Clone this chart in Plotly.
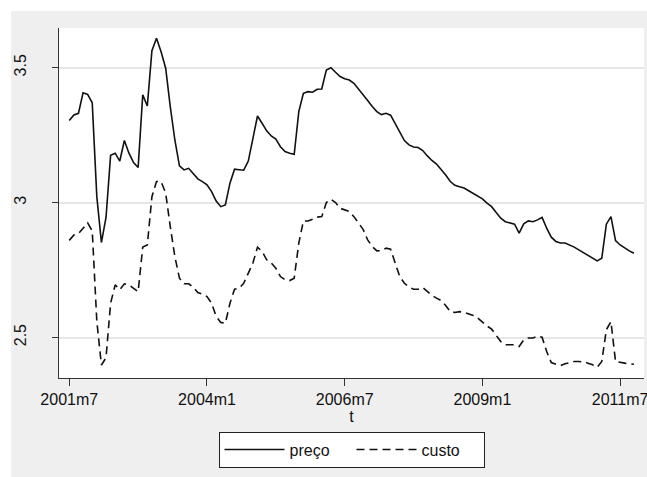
import plotly.graph_objects as go

# month index 0 = 2001m7
t = list(range(124))
tick_vals = [0, 30, 60, 90, 120]
tick_labels = ["2001m7", "2004m1", "2006m7", "2009m1", "2011m7"]
y_tick_vals = [2.5, 3.0, 3.5]
y_tick_labels = ["2.5", "3", "3.5"]

preco = [
    3.304, 3.325, 3.331, 3.407, 3.401, 3.370, 3.022, 2.852, 2.945, 3.175,
    3.183, 3.154, 3.230, 3.183, 3.148, 3.130, 3.399, 3.358, 3.563, 3.609,
    3.559, 3.498, 3.356, 3.232, 3.136, 3.121, 3.127, 3.109, 3.088, 3.078,
    3.066, 3.041, 3.006, 2.985, 2.991, 3.072, 3.124, 3.122, 3.120, 3.154,
    3.232, 3.321, 3.294, 3.266, 3.247, 3.235, 3.207, 3.189, 3.183, 3.179,
    3.337, 3.405, 3.411, 3.409, 3.420, 3.421, 3.491, 3.500, 3.483, 3.467,
    3.459, 3.454, 3.442, 3.422, 3.401, 3.378, 3.356, 3.337, 3.326, 3.331,
    3.324, 3.294, 3.259, 3.230, 3.214, 3.206, 3.204, 3.193, 3.173, 3.156,
    3.143, 3.124, 3.102, 3.078, 3.064, 3.059, 3.054, 3.044, 3.035, 3.026,
    3.014, 2.998, 2.985, 2.963, 2.942, 2.929, 2.924, 2.920, 2.887, 2.921,
    2.932, 2.929, 2.936, 2.945, 2.905, 2.872, 2.856, 2.850, 2.850, 2.843,
    2.835, 2.825, 2.815, 2.803, 2.793, 2.784, 2.794, 2.920, 2.948, 2.859,
    2.843, 2.831, 2.821, 2.812,
]

custo = [
    2.860, 2.880, 2.885, 2.905, 2.925, 2.895, 2.560, 2.398, 2.425, 2.627,
    2.695, 2.677, 2.699, 2.695, 2.683, 2.670, 2.835, 2.843, 3.022, 3.078,
    3.078, 3.035, 2.911, 2.800, 2.720, 2.699, 2.699, 2.687, 2.667, 2.661,
    2.652, 2.627, 2.578, 2.556, 2.553, 2.627, 2.679, 2.683, 2.701, 2.738,
    2.776, 2.835, 2.819, 2.788, 2.776, 2.757, 2.726, 2.714, 2.711, 2.720,
    2.850, 2.932, 2.932, 2.938, 2.946, 2.948, 3.000, 3.012, 3.000, 2.979,
    2.973, 2.967, 2.948, 2.926, 2.901, 2.862, 2.837, 2.821, 2.822, 2.831,
    2.827, 2.776, 2.726, 2.701, 2.687, 2.679, 2.679, 2.685, 2.670, 2.656,
    2.646, 2.637, 2.619, 2.596, 2.593, 2.596, 2.593, 2.588, 2.582, 2.572,
    2.556, 2.543, 2.531, 2.510, 2.485, 2.473, 2.473, 2.473, 2.467, 2.491,
    2.498, 2.498, 2.505, 2.501, 2.448, 2.407, 2.401, 2.396, 2.403, 2.407,
    2.411, 2.411, 2.410, 2.405, 2.399, 2.390, 2.411, 2.529, 2.559, 2.411,
    2.407, 2.405, 2.403, 2.401,
]

FONT = "Liberation Sans, Arial, Helvetica, sans-serif"
BG = "#efefef"

fig = go.Figure()
fig.add_trace(go.Scatter(x=t, y=preco, mode="lines", name="preço",
                         line=dict(color="#111111", width=1.6)))
fig.add_trace(go.Scatter(x=t, y=custo, mode="lines", name="custo",
                         line=dict(color="#111111", width=1.6, dash="8px,5px")))

fig.update_layout(
    width=647, height=477,
    margin=dict(l=59, r=3, t=28, b=99, pad=0, autoexpand=False),
    paper_bgcolor=BG,
    plot_bgcolor="white",
    font=dict(family=FONT, size=16, color="#111111"),
    showlegend=True,
    legend=dict(
        orientation="h", x=0.5, xanchor="center", y=-0.153, yanchor="top",
        bgcolor="white", bordercolor="#222222", borderwidth=1,
        itemwidth=60, font=dict(size=16), tracegroupgap=0,
        entrywidth=57,
    ),
    xaxis=dict(
        range=[-2.24, 125.2], tickmode="array", tickvals=tick_vals,
        ticktext=tick_labels, showgrid=False, zeroline=False,
        showline=True, linecolor="#333333", linewidth=1,
        ticks="outside", ticklen=7, tickcolor="#333333",
        ticklabeloverflow="allow", automargin=False,
        title=dict(text="t", standoff=0, font=dict(size=16)),
    ),
    yaxis=dict(
        range=[2.350, 3.647], tickmode="array", tickvals=y_tick_vals,
        ticktext=y_tick_labels, tickangle=-90,
        showgrid=True, gridcolor="#e6e6e6", gridwidth=1.5, zeroline=False,
        showline=True, linecolor="#333333", linewidth=1,
        ticks="outside", ticklen=6, tickcolor="#333333",
        ticklabelstandoff=20, automargin=False,
    ),
    shapes=[
        dict(type="rect", xref="paper", yref="paper", x0=-0.2, x1=1.2,
             y0=1.0486, y1=1.2, fillcolor="white", line=dict(width=0),
             layer="below"),
        dict(type="rect", xref="paper", yref="paper", x0=-0.2, x1=-0.082,
             y0=-0.4, y1=1.2, fillcolor="white", line=dict(width=0),
             layer="below"),
    ],
)

fig.write_html(
    "out.html",
    config={"displayModeBar": False},
    post_script="document.body.style.margin='0';document.body.style.overflow='hidden';",
)
